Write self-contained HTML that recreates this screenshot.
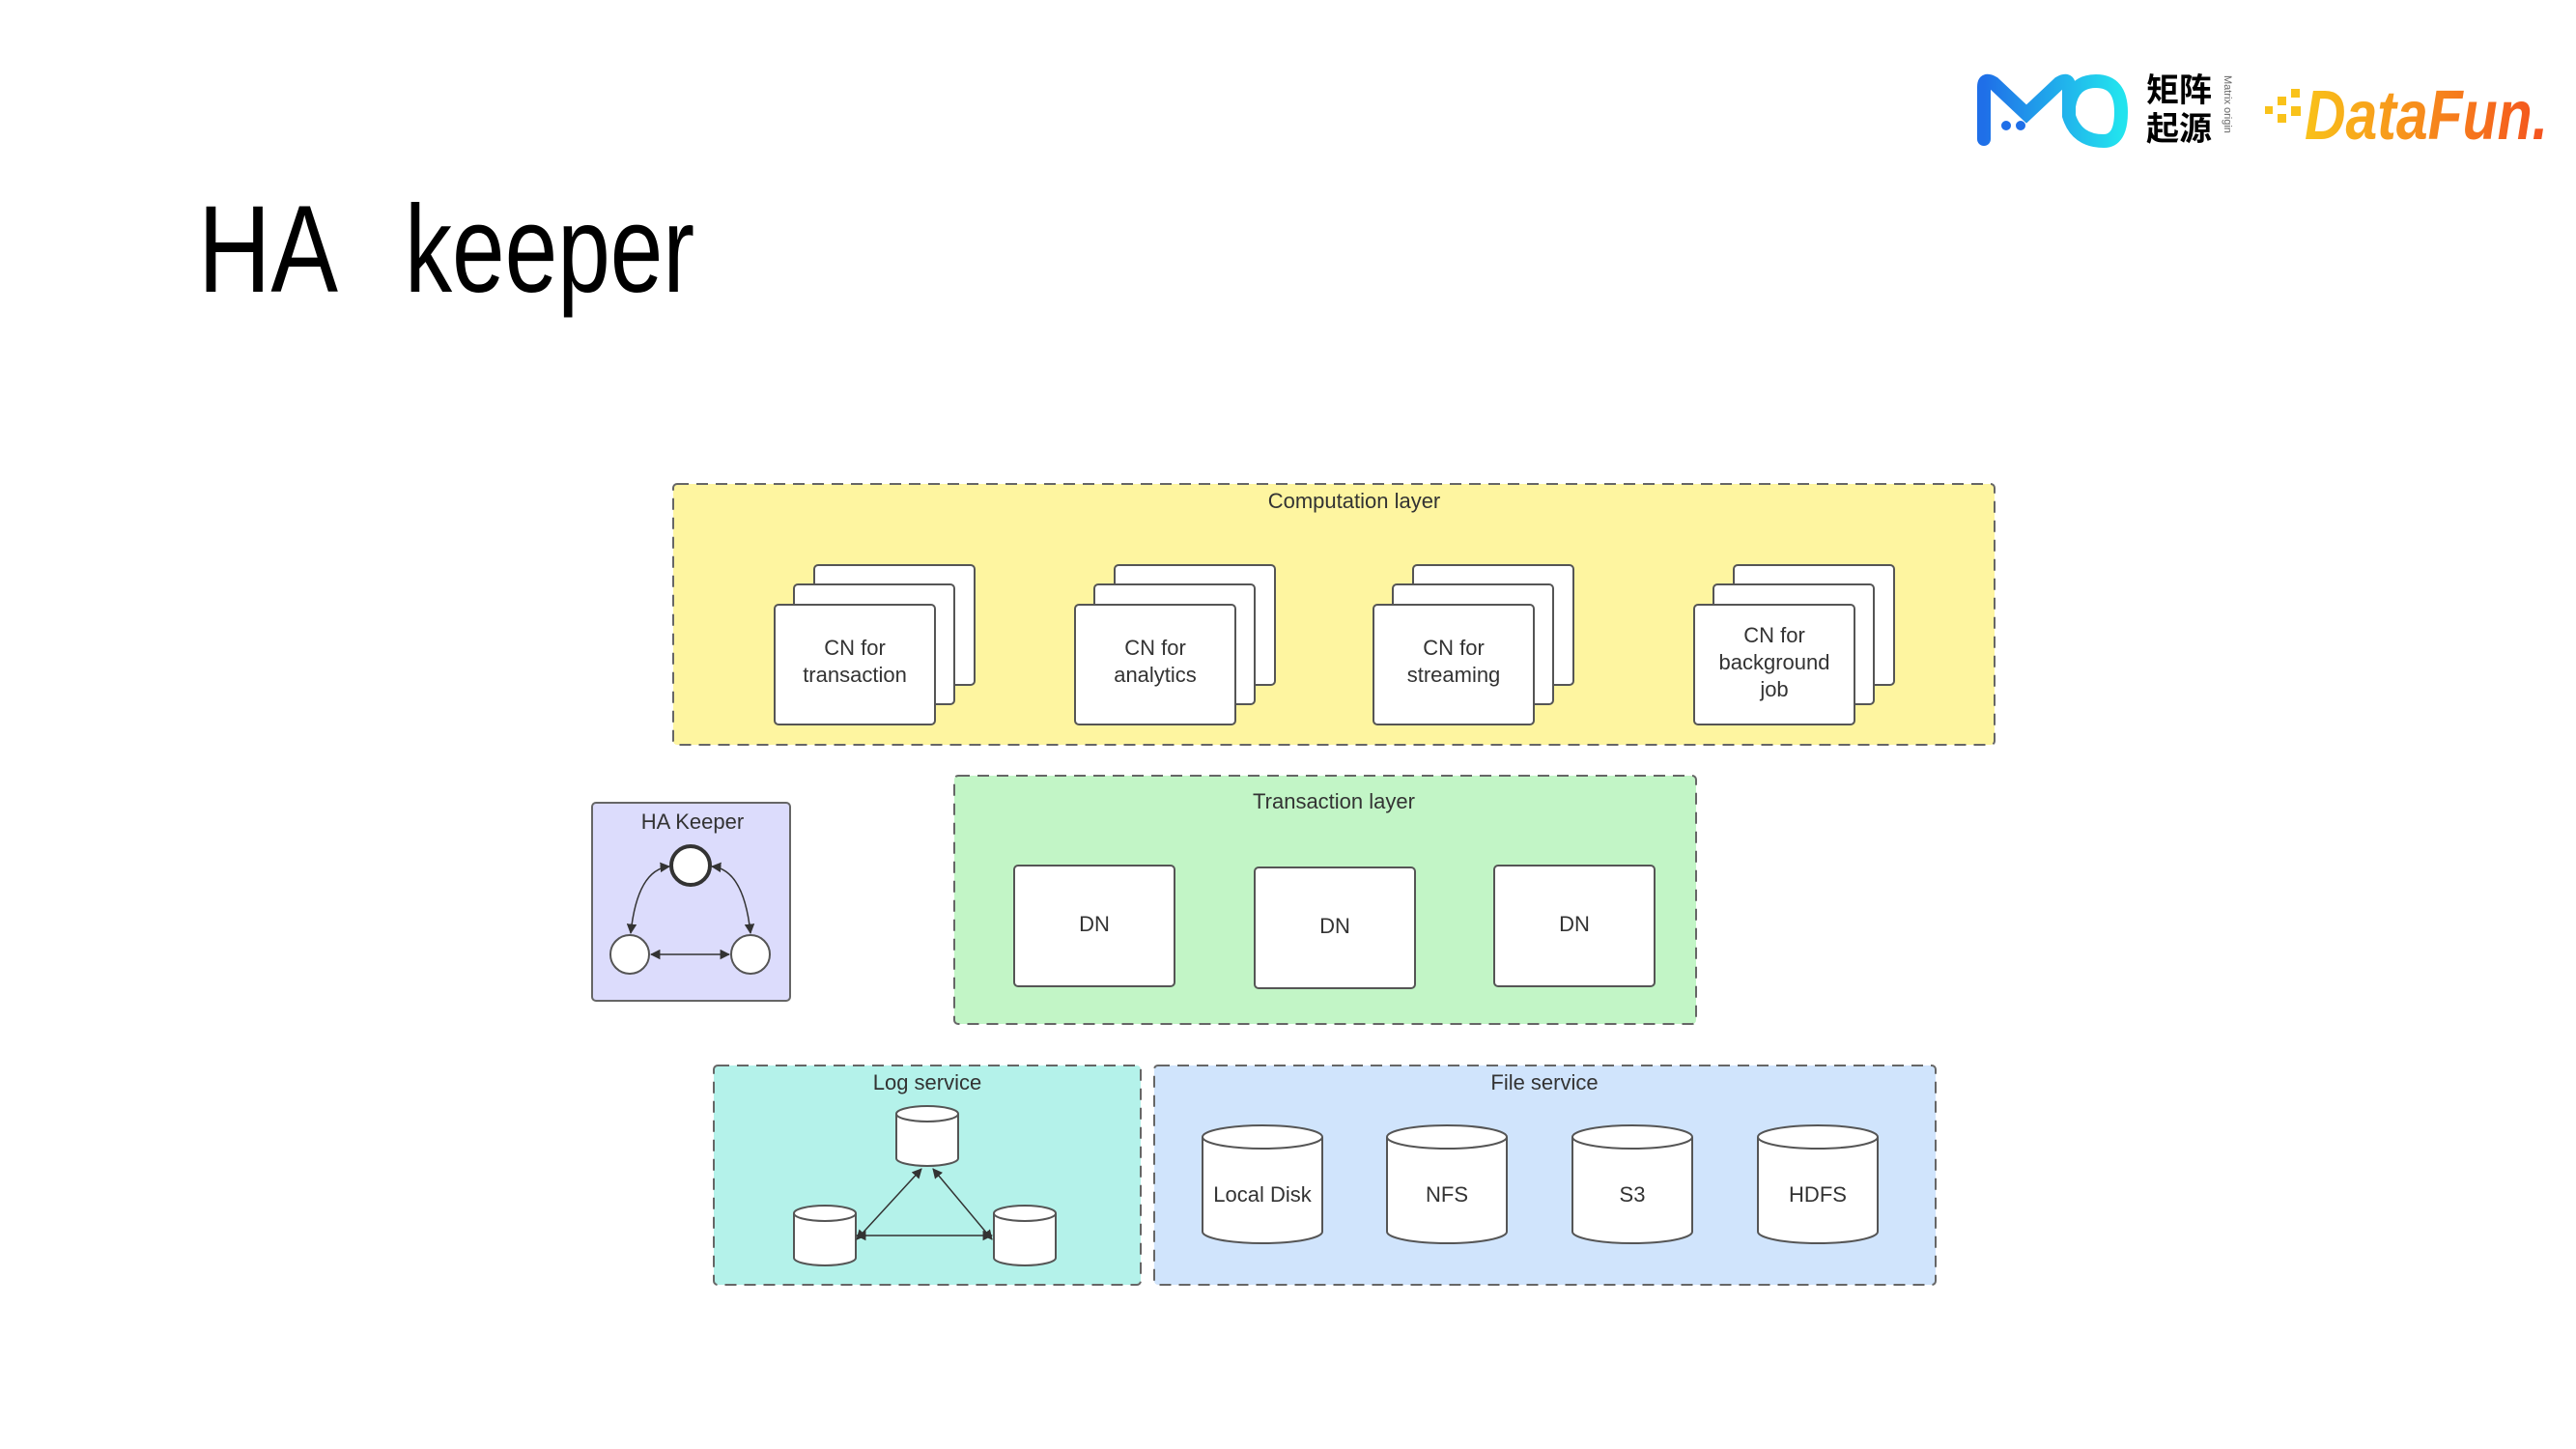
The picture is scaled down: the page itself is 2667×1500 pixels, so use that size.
<!DOCTYPE html>
<html><head><meta charset="utf-8"><style>
html,body{margin:0;padding:0;background:#fff;}
svg{display:block;}
text{font-family:"Liberation Sans","Noto Sans CJK SC",sans-serif;fill:#333;}
</style></head><body>
<svg width="2667" height="1500" viewBox="0 0 2667 1500" xmlns="http://www.w3.org/2000/svg">
<defs>
<marker id="ar" viewBox="0 0 10 10" refX="9" refY="5" markerWidth="7" markerHeight="7" orient="auto-start-reverse"><path d="M0,0 L10,5 L0,10 z" fill="#333"/></marker>
<linearGradient id="mo" x1="0" x2="1"><stop offset="0" stop-color="#1f6fe8"/><stop offset="1" stop-color="#22e3ee"/></linearGradient>
<linearGradient id="df" x1="0" x2="1"><stop offset="0" stop-color="#f9c21a"/><stop offset="1" stop-color="#f4511e"/></linearGradient>
</defs>

<!-- title -->
<text x="205" y="302" font-size="128" style="fill:#000" textLength="145" lengthAdjust="spacingAndGlyphs">HA</text>
<text x="419" y="302" font-size="128" style="fill:#000" textLength="300" lengthAdjust="spacingAndGlyphs">keeper</text>

<!-- logos -->
<g fill="none" stroke="url(#mo)" stroke-width="14" stroke-linecap="round">
<path d="M2054,144 L2054,90 Q2054,80 2064,86 L2098,118 L2132,86 Q2142,80 2142,90 L2142,120 Q2150,146 2178,146 Q2196,146 2196,116 Q2196,84 2170,84 Q2146,84 2142,110"/>
</g>
<circle cx="2077" cy="130" r="5" fill="#1f6fe8"/><circle cx="2092" cy="130" r="5" fill="#1f6fe8"/>
<text x="2222" y="105" font-size="34" style="fill:#000;font-weight:bold">矩阵</text>
<text x="2222" y="145" font-size="34" style="fill:#000;font-weight:bold">起源</text>
<text x="0" y="0" font-size="11" style="fill:#666" transform="translate(2303,78) rotate(90)">Matrix origin</text>
<g fill="#f9c21a"><rect x="2345" y="110" width="8" height="8"/><rect x="2358" y="100" width="9" height="9"/><rect x="2358" y="118" width="9" height="9"/><rect x="2372" y="92" width="9" height="9"/><rect x="2372" y="110" width="10" height="10"/></g>
<text x="2386" y="144" font-size="72" font-style="italic" font-weight="bold" style="fill:url(#df)" textLength="252" lengthAdjust="spacingAndGlyphs">DataFun.</text>

<!-- Computation layer -->
<rect x="697" y="501" width="1368" height="270" rx="4" fill="#fef5a0" stroke="#666" stroke-width="2" stroke-dasharray="12,8"/>
<text x="1402" y="526" font-size="22" text-anchor="middle">Computation layer</text>
<g stroke="#555" stroke-width="2" fill="#fff">
<g id="st"><rect x="843" y="585" width="166" height="124" rx="4"/><rect x="822" y="605" width="166" height="124" rx="4"/><rect x="802" y="626" width="166" height="124" rx="4"/></g>
<use href="#st" x="311"/><use href="#st" x="620"/><use href="#st" x="952"/>
</g>
<g font-size="22" text-anchor="middle">
<text x="885" y="678">CN for</text><text x="885" y="706">transaction</text>
<text x="1196" y="678">CN for</text><text x="1196" y="706">analytics</text>
<text x="1505" y="678">CN for</text><text x="1505" y="706">streaming</text>
<text x="1837" y="665">CN for</text><text x="1837" y="693">background</text><text x="1837" y="721">job</text>
</g>

<!-- Transaction layer -->
<rect x="988" y="803" width="768" height="257" rx="4" fill="#c2f5c6" stroke="#666" stroke-width="2" stroke-dasharray="12,8"/>
<text x="1381" y="837" font-size="22" text-anchor="middle">Transaction layer</text>
<g stroke="#555" stroke-width="2" fill="#fff">
<rect x="1050" y="896" width="166" height="125" rx="4"/>
<rect x="1299" y="898" width="166" height="125" rx="4"/>
<rect x="1547" y="896" width="166" height="125" rx="4"/>
</g>
<g font-size="22" text-anchor="middle">
<text x="1133" y="964">DN</text><text x="1382" y="966">DN</text><text x="1630" y="964">DN</text>
</g>

<!-- HA Keeper -->
<rect x="613" y="831" width="205" height="205" rx="4" fill="#dcdcfc" stroke="#666" stroke-width="2"/>
<text x="717" y="858" font-size="22" text-anchor="middle">HA Keeper</text>
<g stroke="#333" stroke-width="1.5" fill="none">
<path d="M693,897 Q660,900 653,966" marker-start="url(#ar)" marker-end="url(#ar)"/>
<path d="M737,897 Q770,900 777,966" marker-start="url(#ar)" marker-end="url(#ar)"/>
<path d="M674,988 L755,988" marker-start="url(#ar)" marker-end="url(#ar)"/>
</g>
<circle cx="715" cy="896" r="20" fill="#fff" stroke="#333" stroke-width="4"/>
<circle cx="652" cy="988" r="20" fill="#fff" stroke="#555" stroke-width="2"/>
<circle cx="777" cy="988" r="20" fill="#fff" stroke="#555" stroke-width="2"/>

<!-- Log service -->
<rect x="739" y="1103" width="442" height="227" rx="4" fill="#b4f2ea" stroke="#666" stroke-width="2" stroke-dasharray="12,8"/>
<text x="960" y="1128" font-size="22" text-anchor="middle">Log service</text>
<g stroke="#555" stroke-width="2" fill="#fff">
<g id="cy"><path d="M928,1153 L928,1199 A32,8 0 0 0 992,1199 L992,1153"/><ellipse cx="960" cy="1153" rx="32" ry="8"/></g>
<use href="#cy" x="-106" y="103"/><use href="#cy" x="101" y="103"/>
</g>
<g stroke="#333" stroke-width="1.5" fill="none">
<path d="M954,1210 L887,1283" marker-start="url(#ar)" marker-end="url(#ar)"/>
<path d="M966,1210 L1027,1283" marker-start="url(#ar)" marker-end="url(#ar)"/>
<path d="M887,1279 L1027,1279" marker-start="url(#ar)" marker-end="url(#ar)"/>
</g>

<!-- File service -->
<rect x="1195" y="1103" width="809" height="227" rx="4" fill="#d0e4fc" stroke="#666" stroke-width="2" stroke-dasharray="12,8"/>
<text x="1599" y="1128" font-size="22" text-anchor="middle">File service</text>
<g stroke="#555" stroke-width="2" fill="#fff">
<g id="fc"><path d="M1245,1177 L1245,1275 A62,12 0 0 0 1369,1275 L1369,1177"/><ellipse cx="1307" cy="1177" rx="62" ry="12"/></g>
<use href="#fc" x="191"/><use href="#fc" x="383"/><use href="#fc" x="575"/>
</g>
<g font-size="22" text-anchor="middle">
<text x="1307" y="1244">Local Disk</text><text x="1498" y="1244">NFS</text><text x="1690" y="1244">S3</text><text x="1882" y="1244">HDFS</text>
</g>
</svg>
</body></html>
